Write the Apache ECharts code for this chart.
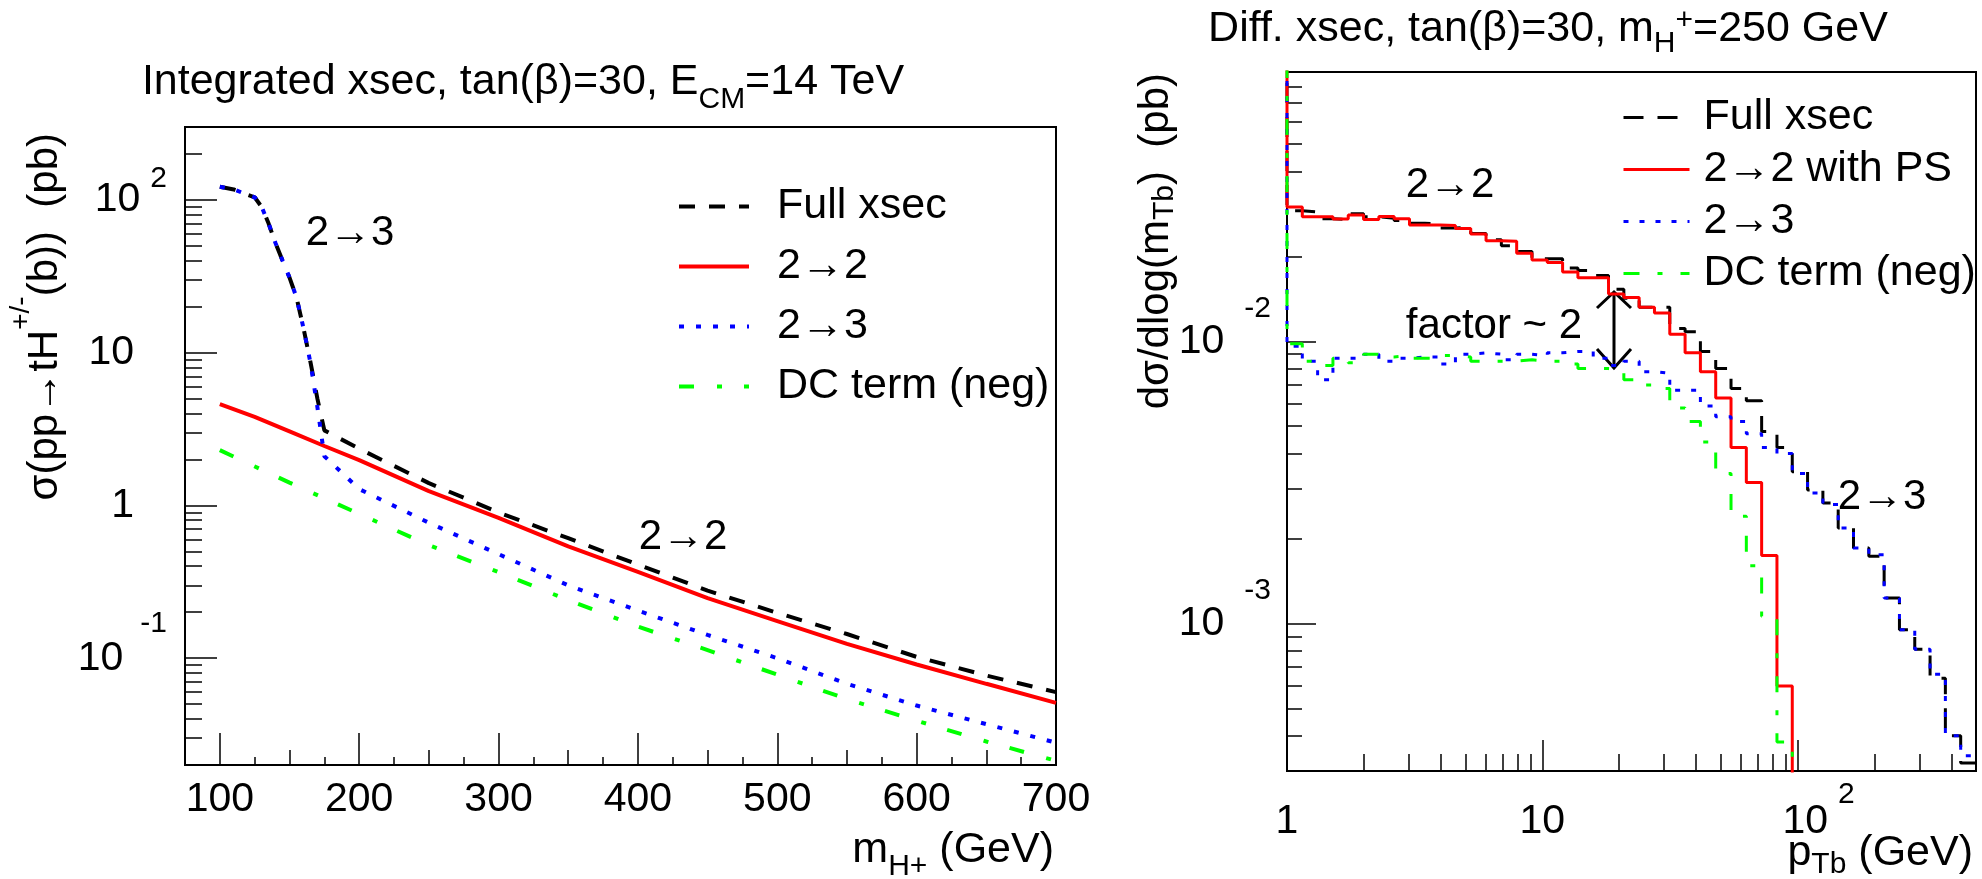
<!DOCTYPE html>
<html>
<head>
<meta charset="utf-8">
<title>Charged Higgs production cross sections</title>
<script src="https://cdn.jsdelivr.net/npm/echarts@6.0.0/dist/echarts.min.js"></script>
<style>
  html, body { margin: 0; padding: 0; background: #fff; }
  #chart { width: 1982px; height: 879px; }
</style>
</head>
<body>
<div id="chart"></div>
<script>
// left pad: integrated xsec (pb) vs m_H+ (GeV)
const massSteep = [100, 110, 120, 125, 130, 135, 140, 145, 150, 155, 160, 165, 170, 175, 200, 250, 300, 350, 400, 450, 500, 550, 600, 650, 700];
const xsecFull = [122, 117, 108, 104, 90, 70, 52, 40, 31, 23, 14.5, 8.7, 5.0, 3.1, 2.35, 1.40, 0.90, 0.61, 0.41, 0.277, 0.198, 0.144, 0.102, 0.077, 0.060];
const xsec23 = [122, 117, 108, 104, 90, 70, 52, 40, 31, 23, 14.5, 8.6, 4.4, 2.1, 1.28, 0.77, 0.48, 0.30, 0.205, 0.142, 0.100, 0.068, 0.049, 0.037, 0.028];
const mass22 = [100, 125, 150, 175, 200, 250, 300, 350, 400, 450, 500, 550, 600, 650, 700];
const xsec22 = [4.6, 3.8, 3.05, 2.45, 1.98, 1.24, 0.83, 0.54, 0.367, 0.247, 0.175, 0.124, 0.091, 0.068, 0.051];
const massDC = [100, 150, 200, 250, 300, 350, 400, 450, 500, 550, 600, 650, 700];
const xsecDC = [2.3, 1.41, 0.88, 0.55, 0.366, 0.24, 0.161, 0.113, 0.078, 0.054, 0.039, 0.0285, 0.0213];

const massTicks = [100, 200, 300, 400, 500, 600, 700];
const massTicksHalf = [150, 250, 350, 450, 550, 650];
const massTicksQuarter = [125, 175, 225, 275, 325, 375, 425, 475, 525, 575, 625, 675];
const xsecDecades = [-1, 0, 1, 2];
const xsecMinor = [0.03, 0.04, 0.05, 0.06, 0.07, 0.08, 0.09, 0.2, 0.3, 0.4, 0.5, 0.6, 0.7, 0.8, 0.9,
  2, 3, 4, 5, 6, 7, 8, 9, 20, 30, 40, 50, 60, 70, 80, 90, 200];

// right pad: dsigma/dlog(m_Tb) (pb), 45 log bins of p_Tb from 1 to 500 GeV
const nBins = 45;
const ptMax = 500;
const diffFull = [0.0290, 0.0287, 0.0272, 0.0270, 0.0283, 0.0276, 0.0273, 0.0268, 0.0262, 0.0260,
  0.0252, 0.0254, 0.0241, 0.0229, 0.0218, 0.0208, 0.0196, 0.0196, 0.0182, 0.0178,
  0.0171, 0.0153, 0.0142, 0.0132, 0.0132, 0.0111, 0.0108, 0.0092, 0.0080, 0.0068,
  0.00615, 0.00479, 0.00420, 0.00345, 0.00297, 0.00267, 0.00218, 0.00185, 0.00173, 0.00123,
  0.00095, 0.00081, 0.00064, 0.00040, 0.00032];
const diff22PS = [0.0299, 0.0276, 0.0276, 0.0271, 0.0280, 0.0270, 0.0277, 0.0272, 0.0258, 0.0258,
  0.0257, 0.0251, 0.0240, 0.0227, 0.0226, 0.0205, 0.0194, 0.0190, 0.0176, 0.0168,
  0.0168, 0.0147, 0.0143, 0.0132, 0.0126, 0.0106, 0.0091, 0.0078, 0.0063, 0.0042,
  0.00316, 0.00174, 0.00060];
const diff23 = [0.0096, 0.0085, 0.0073, 0.0087, 0.0087, 0.0090, 0.0085, 0.0087, 0.0088, 0.0088,
  0.0083, 0.0090, 0.0091, 0.0090, 0.0086, 0.0090, 0.0089, 0.0091, 0.0092, 0.0092,
  0.0087, 0.0082, 0.0085, 0.0078, 0.0077, 0.0067, 0.0067, 0.0059, 0.0054, 0.0052,
  0.0047, 0.0042, 0.0040, 0.0034, 0.0029, 0.00264, 0.00218, 0.00185, 0.00175, 0.00123,
  0.00095, 0.00081, 0.00066, 0.00040, 0.00034];
const diffDC = [0.0098, 0.0085, 0.0082, 0.0087, 0.0084, 0.0090, 0.0088, 0.0089, 0.0087, 0.0087,
  0.0089, 0.0088, 0.0085, 0.0085, 0.0085, 0.0086, 0.0085, 0.0085, 0.0083, 0.0080,
  0.0080, 0.0079, 0.0073, 0.0070, 0.0068, 0.0058, 0.0052, 0.0044, 0.0034, 0.0024,
  0.0016, 0.00106, 0.00038];

const ptDecades = [0, 1, 2];
const ptMinor = [2, 3, 4, 5, 6, 7, 8, 9, 20, 30, 40, 50, 60, 70, 80, 90, 200, 300, 400];
const diffDecades = [-3, -2];
const diffMinor = [0.0004, 0.0005, 0.0006, 0.0007, 0.0008, 0.0009,
  0.002, 0.003, 0.004, 0.005, 0.006, 0.007, 0.008, 0.009,
  0.02, 0.03, 0.04, 0.05, 0.06, 0.07, 0.08];

// histograms come from below x=1 off the top of the frame
const underflowLevel = 1;
const belowAxis = 1e-5;

const font = 'Liberation Sans';
const binEdges = Array.from({length: nBins + 1}, (_, k) => Math.pow(ptMax, k / nBins));

function histData(values, dropToAxis) {
  const pts = [[binEdges[0], underflowLevel]];
  values.forEach((v, k) => pts.push([binEdges[k], v]));
  const n = values.length;
  pts.push([binEdges[n], dropToAxis ? belowAxis : values[n - 1]]);
  return pts;
}

function curve(name, xs, ys, color, width, dash) {
  return {
    name, type: 'line', xAxisIndex: 0, yAxisIndex: 0,
    data: xs.map((x, i) => [x, ys[i]]),
    symbol: 'none', showSymbol: false, clip: true, silent: true,
    lineStyle: {color, width, type: dash}, itemStyle: {color}
  };
}

function hist(name, values, drop, color, dash) {
  return {
    name, type: 'line', xAxisIndex: 3, yAxisIndex: 3, step: 'end',
    data: histData(values, drop),
    symbol: 'none', showSymbol: false, clip: true, silent: true,
    lineStyle: {color, width: 3, type: dash}, itemStyle: {color}
  };
}

const black = '#000000', red = '#ff0000', blue = '#0000ff', green = '#00ff00';
const tickLine = {color: '#000', width: 1.5};
const noLine = {show: false, onZero: false};
const frameLine = {show: true, onZero: false, lineStyle: {color: '#000', width: 2}};

function tickAxis(grid, pos, type, min, max, ticks, len) {
  return {
    gridIndex: grid, position: pos, type, min, max,
    axisLine: noLine, splitLine: {show: false}, axisLabel: {show: false},
    axisTick: {show: true, inside: true, length: len, customValues: ticks, lineStyle: tickLine}
  };
}

const lbl = {fontSize: 41, fontFamily: font, color: '#000'};

function label(text, x, y, extra) {
  return {type: 'text', x, y, style: Object.assign({
    text, fontSize: 42, fontFamily: font, fill: '#000',
    align: 'center', verticalAlign: 'middle', textAlign: 'center', textVerticalAlign: 'middle'
  }, extra)};
}
const subStyle = (pad) => ({fontSize: 30, fontFamily: font, fill: '#000', padding: pad});

const chart = echarts.init(document.getElementById('chart'));
chart.setOption({
  animation: false,
  backgroundColor: '#fff',
  grid: [
    {left: 185, top: 127, width: 871, height: 638, show: true, borderColor: '#000', borderWidth: 2, backgroundColor: 'transparent', outerBoundsMode: 'none'},
    {left: 1287, top: 72, width: 689, height: 699, show: true, borderColor: '#000', borderWidth: 2, backgroundColor: 'transparent', outerBoundsMode: 'none'}
  ],
  xAxis: [
    {
      gridIndex: 0, position: 'bottom', type: 'value', min: 75, max: 700,
      axisLine: frameLine, splitLine: {show: false},
      axisTick: {show: true, inside: true, length: 32, customValues: massTicks, lineStyle: tickLine},
      axisLabel: Object.assign({customValues: massTicks, margin: 14}, lbl)
    },
    tickAxis(0, 'bottom', 'value', 75, 700, massTicksHalf, 15),
    tickAxis(0, 'bottom', 'value', 75, 700, massTicksQuarter, 8),
    {
      gridIndex: 1, position: 'bottom', type: 'log', logBase: 10, min: 1, max: ptMax,
      axisLine: frameLine, splitLine: {show: false},
      axisTick: {show: false}, axisLabel: {show: false}
    },
    {
      gridIndex: 1, position: 'bottom', type: 'value', min: 0, max: Math.log10(ptMax),
      axisLine: noLine, splitLine: {show: false},
      axisTick: {show: true, inside: true, length: 31, customValues: [1, 2], lineStyle: tickLine},
      axisLabel: {
        customValues: ptDecades, margin: 9,
        formatter: v => {
          const p = Math.round(v);
          if (p === 0) return '{b|1}';
          if (p === 1) return '{b|10}';
          return '{c|10}{e|' + p + '}';
        },
        rich: {
          b: Object.assign({lineHeight: 84}, lbl),
          c: Object.assign({lineHeight: 84, padding: [0, 0, 0, 42]}, lbl),
          e: {fontSize: 30, fontFamily: font, color: '#000', lineHeight: 30, padding: [0, 0, 54, 10]}
        }
      }
    },
    tickAxis(1, 'bottom', 'value', 0, Math.log10(ptMax), ptMinor.map(Math.log10), 17)
  ],
  yAxis: [
    {
      gridIndex: 0, position: 'left', type: 'log', logBase: 10, min: 0.02, max: 300,
      axisLine: frameLine, splitLine: {show: false},
      axisTick: {show: false}, axisLabel: {show: false}
    },
    {
      gridIndex: 0, position: 'left', type: 'value', min: Math.log10(0.02), max: Math.log10(300),
      axisLine: noLine, splitLine: {show: false},
      axisTick: {show: true, inside: true, length: 32, customValues: xsecDecades, lineStyle: tickLine},
      axisLabel: {
        customValues: xsecDecades, margin: 18,
        formatter: v => {
          const p = Math.round(v);
          if (p === 0) return '{p|1}';
          if (p === 1) return '{p|10}';
          return '{b|10}{' + (p < 0 ? 'en' : 'ep') + '|' + p + '}';
        },
        rich: {
          p: Object.assign({padding: [0, 33, 0, 0]}, lbl),
          b: Object.assign({}, lbl),
          ep: {fontSize: 30, fontFamily: font, color: '#000', padding: [0, 0, 42, 10]},
          en: {fontSize: 30, fontFamily: font, color: '#000', padding: [0, 0, 68, 17]}
        }
      }
    },
    tickAxis(0, 'left', 'value', Math.log10(0.02), Math.log10(300), xsecMinor.map(Math.log10), 17),
    {
      gridIndex: 1, position: 'left', type: 'log', logBase: 10, min: 3e-4, max: 0.09,
      axisLine: frameLine, splitLine: {show: false},
      axisTick: {show: false}, axisLabel: {show: false}
    },
    {
      gridIndex: 1, position: 'left', type: 'value', min: Math.log10(3e-4), max: Math.log10(0.09),
      axisLine: noLine, splitLine: {show: false},
      axisTick: {show: true, inside: true, length: 29, customValues: diffDecades, lineStyle: tickLine},
      axisLabel: {
        customValues: diffDecades, margin: 16,
        formatter: v => '{b|10}{e|' + Math.round(v) + '}',
        rich: {
          b: Object.assign({}, lbl),
          e: {fontSize: 30, fontFamily: font, color: '#000', padding: [0, 0, 66, 20]}
        }
      }
    },
    tickAxis(1, 'left', 'value', Math.log10(3e-4), Math.log10(0.09), diffMinor.map(Math.log10), 15)
  ],
  legend: [
    {
      orient: 'vertical', left: 672, top: 180, itemWidth: 70, itemHeight: 14, itemGap: 17,
      selectedMode: false,
      itemStyle: {opacity: 0}, lineStyle: {width: 'inherit'},
      data: ['Full xsec', '2→2', '2→3', 'DC term (neg)'],
      textStyle: {fontSize: 43, lineHeight: 43, fontFamily: font, color: '#000', padding: [0, 0, 0, 23]}
    },
    {
      orient: 'vertical', left: 1617, top: 91, itemWidth: 66, itemHeight: 14, itemGap: 9,
      selectedMode: false,
      itemStyle: {opacity: 0}, lineStyle: {width: 'inherit'},
      data: ['pT: Full xsec', 'pT: 2→2 with PS', 'pT: 2→3', 'pT: DC term (neg)'],
      formatter: n => n.replace('pT: ', ''),
      textStyle: {fontSize: 43, lineHeight: 43, fontFamily: font, color: '#000', padding: [0, 0, 0, 9]}
    }
  ],
  // drawn in ROOT order, the last one ends up on top
  series: [
    curve('Full xsec', massSteep, xsecFull, black, 4, [16, 14]),
    curve('2→2', mass22, xsec22, red, 4, 'solid'),
    curve('2→3', massSteep, xsec23, blue, 4, [5, 12]),
    curve('DC term (neg)', massDC, xsecDC, green, 4, [15, 23, 5, 22]),
    hist('pT: Full xsec', diffFull, false, black, [20, 14]),
    hist('pT: 2→2 with PS', diff22PS, true, red, 'solid'),
    hist('pT: 2→3', diff23, false, blue, [5, 11]),
    hist('pT: DC term (neg)', diffDC, true, green, [16, 18, 5, 18])
  ],
  graphic: [
    label('Integrated xsec, tan(β)=30, E{s|CM}=14 TeV', 523, 82, {fontSize: 43, rich: {s: subStyle([36, 0, 0, 0])}}),
    label('Diff. xsec, tan(β)=30, m{s|H}{u|+}=250 GeV', 1548, 29, {fontSize: 43, rich: {
      s: subStyle([30, 0, 0, 0]), u: subStyle([0, 0, 16, 0])}}),
    Object.assign(label('σ(pp→tH{u|+/-}(b))  (pb)', 45, 133, {align: 'right', textAlign: 'right',
      rich: {u: {fontSize: 28, fontFamily: font, fill: '#000', padding: [0, 0, 48, 0]}}}), {rotation: Math.PI / 2}),
    Object.assign(label('dσ/dlog(m{s|Tb})  (pb)', 1156, 73, {align: 'right', textAlign: 'right',
      rich: {s: subStyle([18, 0, 0, 0])}}), {rotation: Math.PI / 2}),
    label('m{s|H+} (GeV)', 1054, 850, {fontSize: 43, align: 'right', textAlign: 'right', rich: {s: subStyle([34, 0, 0, 0])}}),
    label('p{s|Tb} (GeV)', 1973, 853, {fontSize: 43, align: 'right', textAlign: 'right', rich: {s: subStyle([24, 0, 0, 0])}}),
    label('2→3', 350, 233),
    label('2→2', 683, 537),
    label('2→2', 1450, 185),
    label('factor ~ 2', 1494, 326),
    label('2→3', 1882, 497),
    // double arrow marking the factor ~2 gap
    {type: 'polyline', shape: {points: [[1614, 292], [1614, 368]]}, style: {stroke: '#000', lineWidth: 3, fill: null}},
    {type: 'polyline', shape: {points: [[1597, 308], [1614, 292], [1631, 308]]}, style: {stroke: '#000', lineWidth: 3, fill: null}},
    {type: 'polyline', shape: {points: [[1597, 349], [1614, 368], [1631, 349]]}, style: {stroke: '#000', lineWidth: 3, fill: null}}
  ]
});
</script>
</body>
</html>
